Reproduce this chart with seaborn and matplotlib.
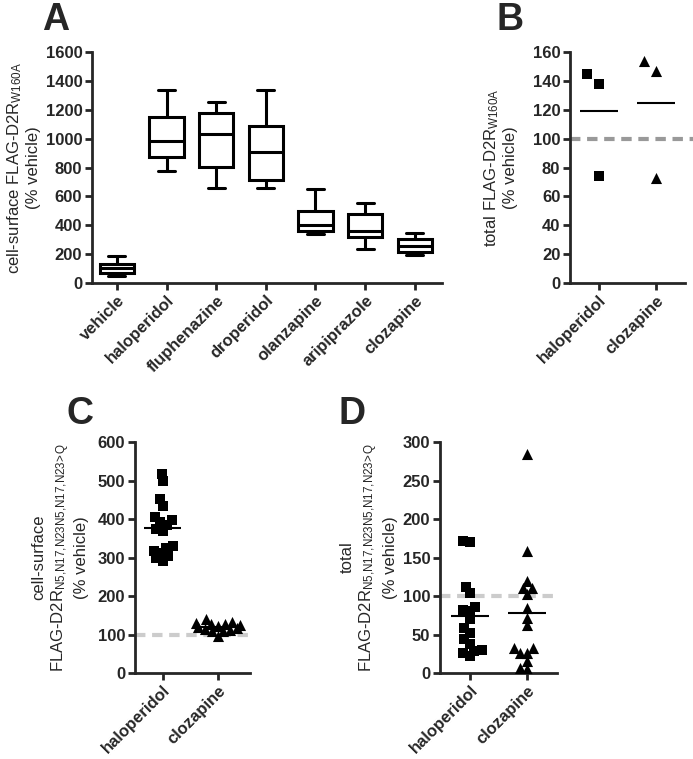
import numpy as np
import pandas as pd
import matplotlib
matplotlib.use('Agg')
import matplotlib.pyplot as plt
import seaborn as sns

# Panel A: five-number summaries (min, Q1, median, Q3, max)
drogas_a = ['vehicle', 'haloperidol', 'fluphenazine', 'droperidol',
            'olanzapine', 'aripiprazole', 'clozapine']
vehicle = [47, 71, 102, 129, 188]
haloperidol_a = [774, 870, 986, 1152, 1337]
fluphenazine = [658, 806, 1035, 1180, 1254]
droperidol = [658, 711, 905, 1090, 1337]
olanzapine = [340, 362, 402, 501, 649]
aripiprazole = [236, 321, 362, 476, 557]
clozapine_a = [194, 217, 256, 302, 344]

# Panel B: total FLAG-D2R W160A
drogas_b = ['haloperidol', 'clozapine']
halo_b = [145, 138, 74]
cloz_b = [154, 147, 73]

# Panel C: cell-surface FLAG-D2R N>Q
halo_c = [518, 500, 452, 435, 404, 398, 392, 385, 375, 370,
          330, 326, 318, 312, 305, 298, 292]
cloz_c = [140, 132, 130, 128, 127, 125, 123, 120, 118, 115,
          112, 110, 108, 97]

# Panel D: total FLAG-D2R N>Q
halo_d = [170, 172, 112, 104, 82, 80, 86, 70, 58, 52, 44, 38, 29, 22, 26, 30]
cloz_d = [284, 158, 120, 110, 110, 103, 84, 72, 62, 32, 32, 26, 26, 15, 5, 7]

sns.set_style('ticks')
plt.rcParams['font.family'] = ['Liberation Sans', 'DejaVu Sans']
plt.rcParams['mathtext.default'] = 'regular'

LW = 2.0
SUB_NQ = r'$_{N5{,}N17{,}N23N5{,}N17{,}N23\!>\!Q}$'

fig = plt.figure(figsize=(6.93, 7.59), dpi=100)
ax_a = fig.add_axes([0.1328, 0.6271, 0.5051, 0.3043])
ax_b = fig.add_axes([0.8225, 0.6271, 0.1659, 0.3043])
ax_c = fig.add_axes([0.1948, 0.1133, 0.1659, 0.3043])
ax_d = fig.add_axes([0.6349, 0.1133, 0.1688, 0.3043])


def estilo_eixo(ax, yticks, ylim, xlim):
    sns.despine(ax=ax)
    ax.set_ylim(*ylim)
    ax.set_yticks(yticks)
    ax.set_xlim(*xlim)
    for s in ['left', 'bottom']:
        ax.spines[s].set_linewidth(LW)
    ax.tick_params(axis='both', width=LW, length=5, direction='out',
                   labelsize=12, pad=2)
    for lab in ax.get_yticklabels():
        lab.set_fontweight('bold')
    for lab in ax.get_xticklabels():
        lab.set_fontweight('bold')
        lab.set_rotation(45)
        lab.set_ha('right')
        lab.set_rotation_mode('anchor')
    ax.set_xlabel('')


# ---- A: box plots ----
caixas = [vehicle, haloperidol_a, fluphenazine, droperidol,
          olanzapine, aripiprazole, clozapine_a]
df_a = pd.DataFrame({
    'droga': np.repeat(drogas_a, 5),
    'valor': np.concatenate(caixas),
})
sns.boxplot(data=df_a, x='droga', y='valor', order=drogas_a, ax=ax_a,
            whis=(0, 100), width=0.69, color='white', linecolor='black',
            linewidth=2.2, fliersize=0, saturation=1)
estilo_eixo(ax_a, np.arange(0, 1601, 200), (0, 1600), (-0.5, 6.55))
ax_a.set_ylabel('cell-surface FLAG-D2R$_{W160A}$\n(% vehicle)', fontsize=12)
ax_a.yaxis.set_label_coords(-0.145, 0.5)

marcadores = []  # (colecao, tamanho final)


def painel_pontos(ax, halo, cloz, yticks, ylim, xlim, cor_ref, layout,
                  tam_q, tam_t):
    df = pd.DataFrame({
        'droga': ['haloperidol'] * len(halo) + ['clozapine'] * len(cloz),
        'valor': halo + cloz,
    })
    ax.axhline(100, color=cor_ref, lw=3, dashes=(2.5, 1.6), zorder=0)
    for droga, mk, tam in [('haloperidol', 's', tam_q), ('clozapine', '^', tam_t)]:
        antes = len(ax.collections)
        sns.swarmplot(data=df[df['droga'] == droga], x='droga', y='valor',
                      order=drogas_b, marker=mk, size=layout, color='black',
                      linewidth=0, ax=ax)
        for coll in ax.collections[antes:]:
            marcadores.append((coll, tam))
    medias = df.groupby('droga')['valor'].mean().reindex(drogas_b).values
    pos = np.arange(len(drogas_b))
    ax.hlines(medias, pos - 0.33, pos + 0.33, color='black', lw=1.5, zorder=5)
    estilo_eixo(ax, yticks, ylim, xlim)
    ax.set_ylabel('')


# ---- B ----
painel_pontos(ax_b, halo_b, cloz_b, np.arange(0, 161, 20), (0, 160),
              (-0.5, 1.5), '#999999', 11, 7, 8)
linha_ref = ax_b.get_lines()[0]
linha_ref.set_clip_on(False)
linha_ref.set_xdata([0, 1.07])
ax_b.set_ylabel('total FLAG-D2R$_{W160A}$\n(% vehicle)', fontsize=12)
ax_b.yaxis.set_label_coords(-0.45, 0.5)

# ---- C ----
painel_pontos(ax_c, halo_c, cloz_c, np.arange(0, 601, 100), (0, 600),
              (-0.5, 1.58), '#cccccc', 5.0, 6.5, 8)
ax_c.set_ylabel('cell-surface\nFLAG-D2R' + SUB_NQ + '\n(% vehicle)',
                fontsize=12)
ax_c.yaxis.set_label_coords(-0.40, 0.5)

# ---- D ----
painel_pontos(ax_d, halo_d, cloz_d, np.arange(0, 301, 50), (0, 300),
              (-0.52, 1.52), '#cccccc', 5.0, 6.5, 8)
ax_d.set_ylabel('total\nFLAG-D2R' + SUB_NQ + '\n(% vehicle)', fontsize=12)
ax_d.yaxis.set_label_coords(-0.36, 0.5)

# letras dos paineis
for letra, x, y in [('A', 0.060, 0.997), ('B', 0.716, 0.997),
                    ('C', 0.096, 0.478), ('D', 0.488, 0.478)]:
    fig.text(x, y, letra, fontsize=27, fontweight='bold', va='top', ha='left')

# calcula o swarm com marcadores menores, depois congela e aumenta
fig.canvas.draw()
for coll, tam in marcadores:
    if 'draw' in coll.__dict__:
        del coll.draw
    coll.set_sizes([tam ** 2])

fig.savefig('out.png', dpi=100)
